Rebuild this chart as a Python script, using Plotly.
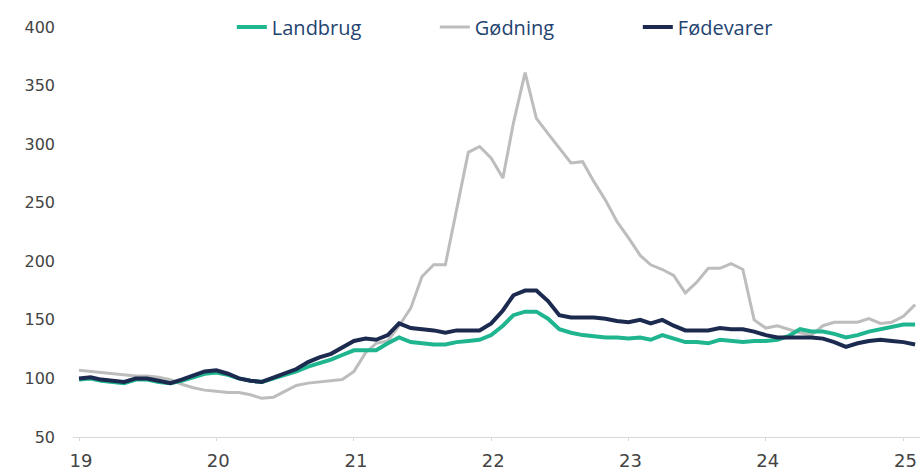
import pandas as pd
import plotly.graph_objects as go

months = pd.date_range("2019-01-01", "2025-02-01", freq="MS")

landbrug = [
    99, 100, 98, 97, 96, 99, 99, 97, 96, 98, 101, 104,
    105, 103, 100, 98, 97, 100, 103, 106, 110, 113, 116, 120,
    124, 124, 124, 130, 135, 131, 130, 129, 129, 131, 132, 133,
    137, 145, 154, 157, 157, 151, 142, 139, 137, 136, 135, 135,
    134, 135, 133, 137, 134, 131, 131, 130, 133, 132, 131, 132,
    132, 133, 136, 142, 140, 140, 138, 135, 137, 140, 142, 144,
    146, 146,
]
goedning = [
    107, 106, 105, 104, 103, 102, 102, 101, 99, 95, 92, 90,
    89, 88, 88, 86, 83, 84, 89, 94, 96, 97, 98, 99,
    106, 122, 130, 132, 145, 160, 187, 197, 197, 245, 293, 298,
    288, 271, 318, 361, 322, 309, 297, 284, 285, 268, 252, 234,
    220, 205, 197, 193, 188, 173, 182, 194, 194, 198, 193, 150,
    143, 145, 142, 139, 137, 145, 148, 148, 148, 151, 147, 148,
    153, 163,
]
foedevarer = [
    100, 101, 99, 98, 97, 100, 100, 98, 96, 99, 103, 106,
    107, 104, 100, 98, 97, 101, 104, 108, 114, 118, 121, 126,
    132, 134, 133, 137, 147, 143, 142, 141, 139, 141, 141, 141,
    147, 158, 171, 175, 175, 166, 154, 152, 152, 152, 151, 149,
    148, 150, 147, 150, 145, 141, 141, 141, 143, 142, 142, 140,
    137, 135, 135, 135, 135, 134, 131, 127, 130, 132, 133, 132,
    131, 129,
]

y_ticks = [50, 100, 150, 200, 250, 300, 350, 400]
x_tick_vals = pd.date_range("2019-01-01", "2025-01-01", freq="YS")
x_tick_text = ["19", "20", "21", "22", "23", "24", "25"]

fig = go.Figure()
fig.add_trace(go.Scatter(x=months, y=goedning, name="Gødning", mode="lines",
                         line=dict(color="#bdbdbd", width=3), legendrank=2))
fig.add_trace(go.Scatter(x=months, y=landbrug, name="Landbrug", mode="lines",
                         line=dict(color="#1fb58f", width=4), legendrank=1))
fig.add_trace(go.Scatter(x=months, y=foedevarer, name="Fødevarer", mode="lines",
                         line=dict(color="#1b2a4e", width=4), legendrank=3))

fig.update_layout(
    width=920, height=473,
    margin=dict(l=73, r=0, t=27, b=36, autoexpand=False),
    paper_bgcolor="white", plot_bgcolor="white",
    showlegend=True,
    legend=dict(orientation="h", x=0.1875, xanchor="left", y=1.0, yanchor="middle",
                font=dict(family="Open Sans", size=20, color="#1f4470"),
                entrywidth=158, entrywidthmode="pixels",
                bgcolor="rgba(0,0,0,0)", itemclick=False),
    xaxis=dict(range=["2018-12-16", "2025-02-14"], tickvals=x_tick_vals, ticktext=x_tick_text,
               showgrid=False, zeroline=False, showline=True, linecolor="#d9d9d9", linewidth=1,
               ticks="outside", ticklen=3, tickcolor="#d9d9d9",
               tickfont=dict(family="DejaVu Sans", size=18, color="#444444"),
               ticklabelshift=2, ticklabelstandoff=4),
    yaxis=dict(range=[50, 400], tickvals=y_ticks, showgrid=False, zeroline=False,
               showline=False, ticks="",
               tickfont=dict(family="DejaVu Sans", size=16, color="#444444"),
               ticklabelstandoff=17),
)

fig.write_html(
    "out.html",
    config={"displayModeBar": False},
    post_script="document.body.style.margin='0';document.body.style.overflow='hidden';",
)
